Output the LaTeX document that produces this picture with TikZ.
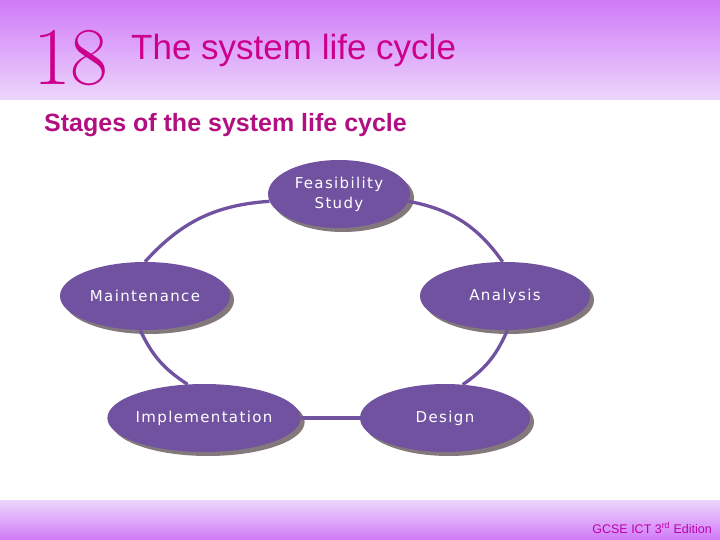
\documentclass[tikz,border=0pt]{standalone}
\usepackage{fontspec}
\usetikzlibrary{shapes.geometric,shadows}
\newfontfamily\headfont{Liberation Sans}
\newfontfamily\stagefont[LetterSpace=9]{DejaVu Sans}
\definecolor{stagepurple}{RGB}{112,82,160}
\definecolor{bandtop}{RGB}{208,122,248}
\definecolor{bandlight}{RGB}{236,214,251}
\definecolor{titlemag}{RGB}{204,0,140}
\definecolor{submag}{RGB}{178,16,128}
\definecolor{footmag}{RGB}{190,0,170}
\tikzset{
  stage/.style={ellipse, fill=stagepurple, text=white, inner sep=0pt,
    minimum width=#1, minimum height=68pt, align=center,
    font=\stagefont\fontsize{15pt}{20pt}\selectfont,
    drop shadow={shadow xshift=4pt, shadow yshift=-4pt, fill=gray!95!purple, opacity=1}},
  stage/.default=170pt,
  cycle link/.style={draw=stagepurple, line width=3.3pt}
}
\begin{document}
\begin{tikzpicture}[x=1pt,y=-1pt]
  \useasboundingbox (0,0) rectangle (720,540);
  % header and footer bands
  \shade[top color=bandtop, bottom color=bandlight] (0,0) rectangle (720,100);
  \shade[top color=bandlight, bottom color=bandtop] (0,500) rectangle (720,540);
  \node[anchor=base west, inner sep=0pt, text=titlemag, font=\fontsize{82pt}{82pt}\selectfont] (num) at (33,85) {18};
  \node[anchor=base west, inner sep=0pt, text=titlemag, font=\headfont\fontsize{35pt}{40pt}\selectfont] (title) at (131,60) {The system life cycle};
  \node[anchor=base west, inner sep=0pt, text=submag, font=\headfont\bfseries\fontsize{25pt}{28pt}\selectfont] (sub) at (44,132) {Stages of the system life cycle};
  \node[anchor=base east, inner sep=0pt, text=footmag, font=\headfont\fontsize{12.5pt}{14pt}\selectfont] (foot) at (712,533) {GCSE ICT 3\textsuperscript{rd} Edition};
  % stages
  \node[stage=142pt] (feas) at (339,194) {Feasibility\\Study};
  \node[stage] (maint) at (145,296) {Maintenance};
  \node[stage] (anal) at (505,296) {Analysis};
  \node[stage=172pt] (impl) at (204,418) {Implementation};
  \node[stage] (design) at (445,418) {Design};
  % links round the cycle
  \draw[cycle link] (feas.186) to[bend right=22] (maint.90);
  \draw[cycle link] (feas.354) to[bend left=22] (anal.94);
  \draw[cycle link] (maint.262) to[bend right=16] (impl.116);
  \draw[cycle link] (anal.274) to[bend left=16] (design.62);
  \draw[cycle link] (impl.east) -- (design.west);
\end{tikzpicture}
\end{document}
